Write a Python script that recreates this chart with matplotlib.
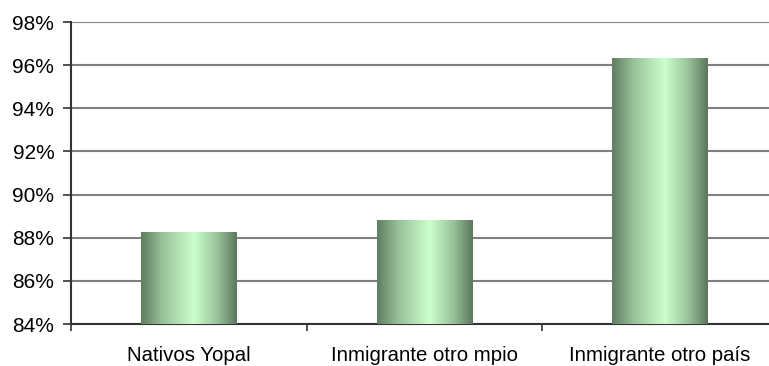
import numpy as np
import matplotlib.pyplot as plt
from matplotlib.colors import LinearSegmentedColormap
from matplotlib.ticker import FuncFormatter

# data
categories = ["Nativos Yopal", "Inmigrante otro mpio", "Inmigrante otro país"]
values = [88.23, 88.78, 96.29]
y_ticks = [84, 86, 88, 90, 92, 94, 96, 98]

plt.rcParams['font.family'] = ['Liberation Sans', 'DejaVu Sans']

fig = plt.figure(figsize=(7.69, 3.66), dpi=100)
ax = fig.add_axes([71 / 769, 42 / 366, 707 / 769, 302 / 366])

x = np.arange(len(categories))
bars = ax.bar(x, [v - 84 for v in values], bottom=84, width=0.405,
              color='none', edgecolor='none', zorder=3)

# horizontal green gradient inside each bar
cmap = LinearSegmentedColormap.from_list(
    "bar", [(0.0, "#607d61"), (0.22, "#97c098"), (0.55, "#ccffcc"),
            (0.8, "#98c199"), (1.0, "#5b775c")])
grad = np.linspace(0, 1, 256).reshape(1, -1)
for b in bars:
    x0, y0 = b.get_x(), b.get_y()
    ax.imshow(grad, cmap=cmap, aspect='auto', zorder=3,
              extent=(x0, x0 + b.get_width(), y0, y0 + b.get_height()))

ax.set_xlim(-0.5, len(categories) - 0.5)
ax.set_ylim(84, 98)
ax.set_yticks(y_ticks)
ax.yaxis.set_major_formatter(FuncFormatter(lambda v, p: f"{v:.0f}%"))
ax.set_xticks(x)
ax.set_xticklabels(categories)
ax.set_xticks(np.arange(len(categories) + 1) - 0.5, minor=True)
ax.tick_params(axis='x', which='major', length=0, pad=15.5, labelsize=14.7)
ax.tick_params(axis='x', which='minor', length=5, width=1.2, color='#333333')
ax.tick_params(axis='y', length=6, width=1.2, color='#333333', pad=6, labelsize=15)

ax.grid(axis='y', color='#808080', linewidth=1.5, zorder=0)
ax.set_axisbelow(True)
for s in ['top', 'right']:
    ax.spines[s].set_visible(False)
for s in ['left', 'bottom']:
    ax.spines[s].set_color('#333333')
    ax.spines[s].set_linewidth(1.5)

fig.savefig("out.png", dpi=100)
